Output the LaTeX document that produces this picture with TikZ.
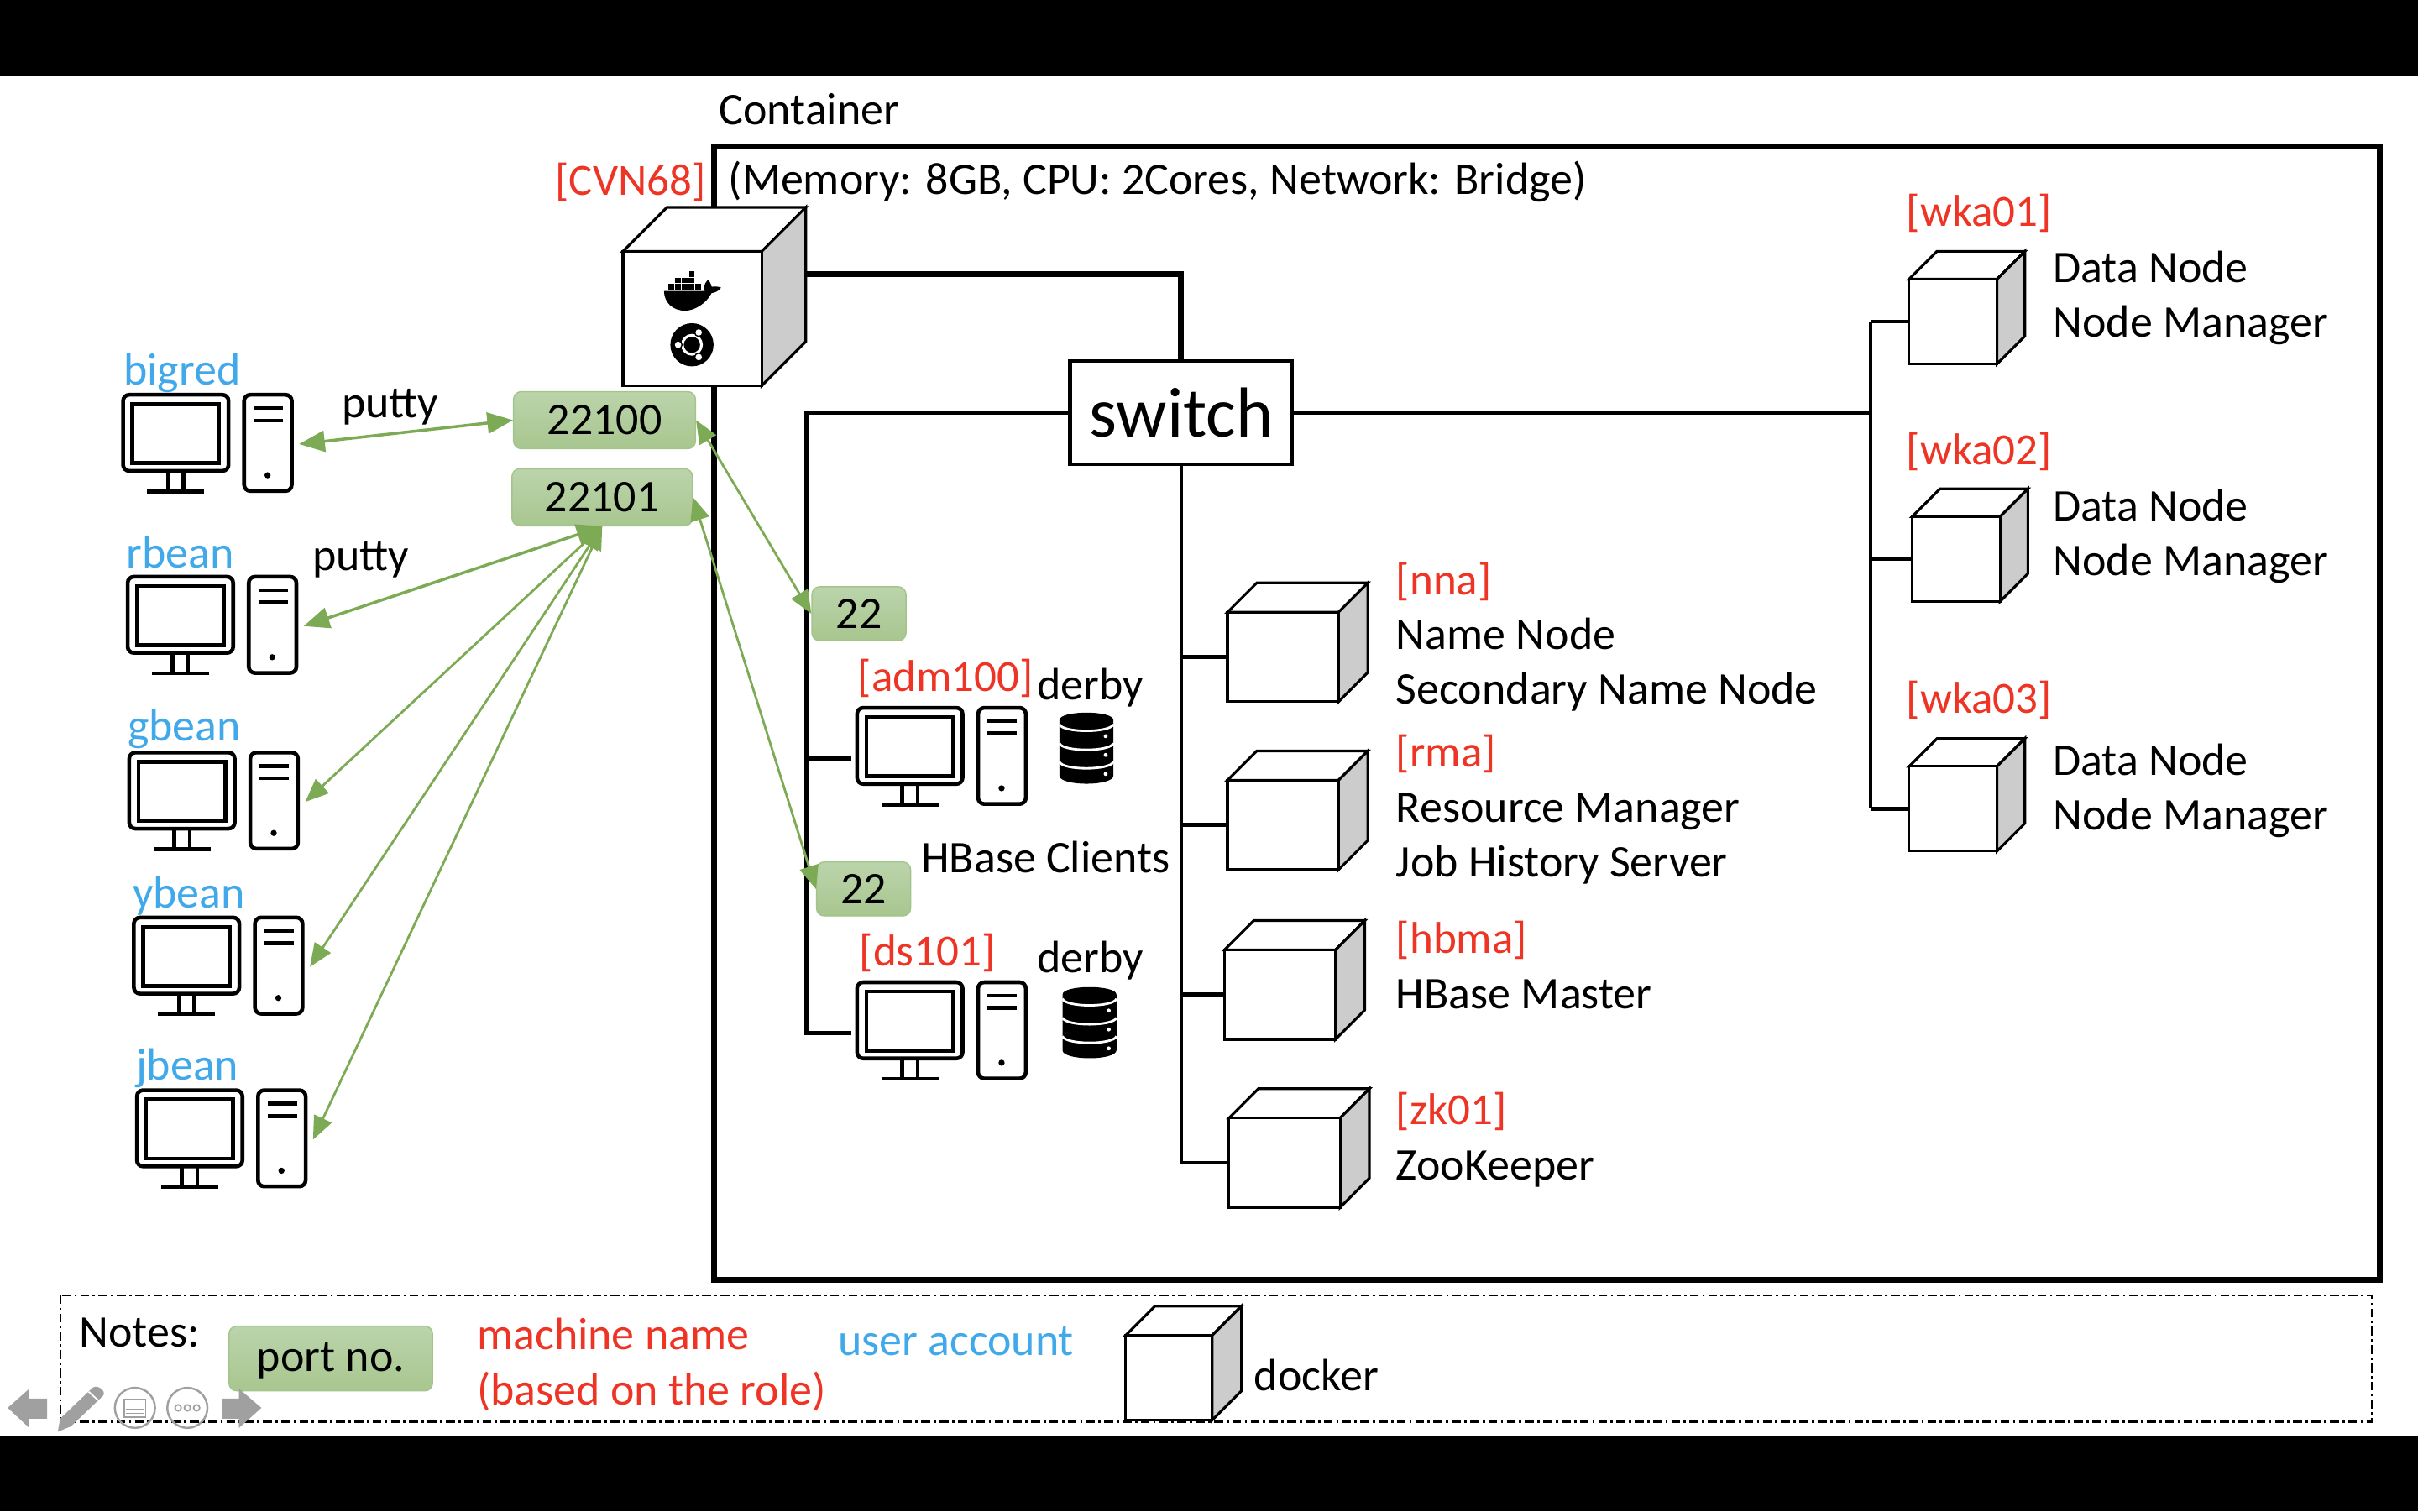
\documentclass[tikz,border=0pt]{standalone}
\usepackage{fontspec}
\usepackage{xcolor}
\usetikzlibrary{shapes,arrows,positioning}
\setmainfont{Carlito}

\definecolor{machinered}{HTML}{EE3424}
\definecolor{userblue}{HTML}{41A9EA}
\definecolor{linkgreen}{HTML}{7DAB55}
\definecolor{porttop}{HTML}{BBD4AB}
\definecolor{portbot}{HTML}{A8C68F}
\definecolor{portedge}{HTML}{A3C48B}
\definecolor{toolgray}{HTML}{A0A0A0}
\newcommand{\unitpx}{0.0183673cm}

% cube: #1 front width, #2 front height, #3 depth
\tikzset{
  pics/dockerbox/.style n args={3}{code={
    \draw[boxline, fill=white] (0,0) -- (#3,-#3) -- (#1+#3,-#3) -- (#1,0) -- cycle;
    \draw[boxline, fill=black!20] (#1,0) -- (#1+#3,-#3) -- (#1+#3,#2-#3) -- (#1,#2) -- cycle;
    \draw[boxline, fill=white] (0,0) rectangle (#1,#2);
    \coordinate (-w) at (0,#2/2);
  }},
  pics/pcset/.style={code={
    \draw[pcline, rounded corners=4*\unitpx] (0.8,1) rectangle (69.2,50.4);
    \draw[pcline] (6.8,7) rectangle (63.2,45.4);
    \draw[pcline] (30,50.7) -- (30,63.7) (40,50.7) -- (40,63.7) (16.5,63.7) -- (53.5,63.7);
    \draw[pcline, rounded corners=4*\unitpx] (79.3,1) rectangle (110.2,63.4);
    \draw[pcline] (85.5,9.7) -- (104.5,9.7) (85.5,17.7) -- (104.5,17.7);
    \fill (94.5,53.2) circle (2);
    \coordinate (-w) at (-3,34);
    \coordinate (-e) at (115,33);
  }},
  pics/dbstack/.style={code={
    \fill (0,5) .. controls (0,-1.5) and (35,-1.5) .. (35,5) -- (35,41) .. controls (35,48) and (0,48) .. (0,41) -- cycle;
    \foreach \yy in {7.7,20,32}
      \draw[white, line width=0.8pt] (0,\yy) .. controls (2,\yy+5.7) and (33,\yy+5.7) .. (35,\yy);
    \foreach \yy in {15.4,27.6,39.9}
      \fill[white] (30,\yy) circle (1.3);
  }}
}

\begin{document}
\begin{tikzpicture}[x=\unitpx,y=-\unitpx]
  \tikzstyle{boxline} = [black, line width=0.9pt, line join=miter]
  \tikzstyle{pcline} = [black, line width=1.3pt]
  \tikzstyle{bus} = [black, line width=1.3pt]
  \tikzstyle{trunk} = [black, line width=2pt]
  \tikzstyle{link} = [<->, >=triangle 45, linkgreen, line width=1pt]
  \tikzstyle{linkthin} = [<->, >=triangle 45, linkgreen, line width=0.8pt]
  \tikzstyle{port} = [rectangle, rounded corners=5*\unitpx, draw=portedge, line width=0.4pt, top color=porttop, bottom color=portbot, inner sep=0pt, font=\fontsize{15.35}{18}\selectfont]
  \tikzstyle{lbl} = [inner sep=0pt, anchor=west, align=left, font=\fontsize{15.35}{18.5}\selectfont]
  \tikzstyle{machine} = [lbl, text=machinered, font=\fontsize{15.1}{18.7}\selectfont]
  \tikzstyle{user} = [inner sep=0pt, text=userblue, font=\fontsize{15.35}{18}\selectfont]
  \tikzstyle{tool} = [toolgray, line width=0.5pt]

  \useasboundingbox (0,0) rectangle (1568,980);
  \fill[black] (0,0) rectangle (1568,49);
  \fill[black] (0,931) rectangle (1568,980);

  % container
  \node[lbl] (cname) at (466,71) {Container};
  \draw[trunk, fill=white] (463,95) rectangle (1543,830);
  \node[lbl] (cspec) at (472,118) {(Memory: 8GB, CPU: 2Cores, Network: Bridge)};

  % switch and its buses
  \node[rectangle, draw, bus, fill=white, minimum width=144*\unitpx, minimum height=67*\unitpx, inner sep=0pt, font=\fontsize{24}{28}\selectfont] (switch) at (766,267.5) {switch};
  \coordinate (left) at (523,267.5);
  \coordinate (cluster) at (766,754);
  \coordinate (right) at (1213,267.5);

  % docker host
  \pic (cvn) at (404,163) {dockerbox={90}{87}{28.5}};
  \draw[trunk] (523,178) -| (switch.north);
  \node[machine, anchor=east] (cvnname) at (458,118) {[CVN68]};

  % whale
  \foreach \xx in {433.6,437.9,442.2,446.5,450.8} \fill (\xx,184) rectangle +(3.6,3.7);
  \foreach \xx in {437.9,442.2,446.5} \fill (\xx,180) rectangle +(3.6,3.6);
  \fill (446.9,176) rectangle +(3.6,3.6);
  \fill (430.6,188.7) -- (457,188.7) .. controls (456,184) and (458,183) .. (459,181.5) .. controls (461,183) and (461,185) .. (461.5,186) .. controls (464,185.5) and (466,186) .. (467.6,186.5) .. controls (466,189) and (463,190) .. (461.5,190) .. controls (458,197) and (450,201.5) .. (444.4,201.5) .. controls (436,201.5) and (430.6,196) .. (430.6,188.7) -- cycle;
  % ubuntu
  \fill (448.7,223.6) circle (14);
  \draw[white, line width=0.9pt] (448.7,223.6) circle (6.2);
  \fill (448.7,223.6) circle (4);
  \foreach \xx/\yy in {4.4/-8,-9/0,4.4/8} {
    \fill (448.7+\xx,223.6+\yy) circle (3);
    \fill[white] (448.7+\xx,223.6+\yy) circle (2.1);
  }

  % clients side
  \foreach \name/\x/\y in {adm100/555/458,ds101/555/636} {
    \pic (\name) at (\x,\y) {pcset};
  }
  \draw[bus] (switch.west) -- (left) |- (ds101-w);
  \draw[bus] (left |- adm100-w) -- (adm100-w);
  \pic at (687,462) {dbstack};
  \pic at (689,640) {dbstack};
  \node[machine] (adm100name) at (556,440) {[adm100]};
  \node[lbl] (derby1) at (672,446) {derby};
  \node[lbl] (hbc) at (597,556) {HBase Clients};
  \node[machine] (ds101name) at (557,618) {[ds101]};
  \node[lbl] (derby2) at (672,623) {derby};

  % cluster side
  \foreach \name/\x/\y/\dx/\dy/\dd in {nna/796/397/72/58/19,rma/796/506/72/58/19,hbma/794/616/72/58/19,zk01/797/725/72/58/19} {
    \pic (\name) at (\x,\y) {dockerbox={\dx}{\dy}{\dd}};
  }
  \draw[bus] (switch.south) -- (cluster) -- (zk01-w);
  \foreach \name in {nna,rma,hbma}
    \draw[bus] (cluster |- \name-w) -- (\name-w);
  \node[machine] (nnaname) at (905,377) {[nna]};
  \node[lbl] (nnatext) at (905,431) {Name Node\\Secondary Name Node};
  \node[machine] (rmaname) at (905,489) {[rma]};
  \node[lbl] (rmatext) at (905,544) {Resource Manager\\Job History Server};
  \node[machine] (hbmaname) at (905,610) {[hbma]};
  \node[lbl] (hbmatext) at (905,645) {HBase Master};
  \node[machine] (zkname) at (905,721) {[zk01]};
  \node[lbl] (zktext) at (905,758) {ZooKeeper};

  % workers
  \foreach \name/\x/\y in {wka01/1238/181,wka02/1240/335,wka03/1238/497} {
    \pic (\name) at (\x,\y) {dockerbox={57}{55}{18}};
  }
  \draw[bus] (switch.east) -- (right);
  \draw[bus] (right |- wka01-w) -- (right |- wka03-w);
  \foreach \name in {wka01,wka02,wka03}
    \draw[bus] (right |- \name-w) -- (\name-w);
  \foreach \name/\yy/\ty in {wka01/138/193,wka02/293/348,wka03/454/513} {
    \node[machine] (\name name) at (1236,\yy) {[\name]};
    \node[lbl] (\name text) at (1331,\ty) {Data Node\\Node Manager};
  }

  % users
  \foreach \name/\x/\y/\tx/\ty in {bigred/79/255/118/242,rbean/82/373/117/358,gbean/83/487/119.5/473,ybean/86/594/122.5/581,jbean/88/706/121.5/693} {
    \pic (\name) at (\x,\y) {pcset};
    \node[user] (\name name) at (\tx,\ty) {\name};
  }
  \node[lbl, anchor=center] (putty1) at (253,264) {putty};
  \node[lbl, anchor=center] (putty2) at (234,363) {putty};

  % ports
  \node[port, minimum width=118*\unitpx, minimum height=37*\unitpx] (p22100) at (392,272.5) {22100};
  \node[port, minimum width=117*\unitpx, minimum height=37*\unitpx] (p22101) at (390.5,322.5) {22101};
  \node[port, minimum width=61*\unitpx, minimum height=35*\unitpx] (padm) at (557,398) {22};
  \node[port, minimum width=61*\unitpx, minimum height=35*\unitpx] (pds) at (560,576.5) {22};
  \draw[link] (bigred-e) -- (p22100.west);
  \draw[link] (rbean-e) -- (p22101.south);
  \foreach \name in {gbean,ybean,jbean}
    \draw[linkthin] (\name-e) -- (p22101.south);
  \draw[linkthin] (p22100.east) -- (padm.west);
  \draw[linkthin] (p22101.east) -- (pds.west);

  % notes
  \draw[black, line width=0.6pt, dash pattern=on 3pt off 1.2pt on 0.8pt off 1.2pt] (39,840) rectangle (1538,922);
  \node[lbl] (notes) at (51,864) {Notes:};
  \node[port, text depth=0.8pt, minimum width=132*\unitpx, minimum height=42*\unitpx] (noteport) at (214.5,881) {port no.};
  \node[machine, font=\fontsize{15.35}{18.7}\selectfont] (notename) at (309,885) {machine name\\(based on the role)};
  \node[user, anchor=west] (noteuser) at (543,870) {user account};
  \pic (notebox) at (730,866) {dockerbox={56}{55}{19}};
  \node[lbl] (notedock) at (813,892) {docker};

  % slide controls
  \fill[toolgray] (5,913) -- (19,900.6) -- (19,907) -- (30.6,907) -- (30.6,920) -- (19,920) -- (19,926) -- cycle;
  \fill[toolgray] (169.5,913) -- (155,900.6) -- (155,907) -- (143.8,907) -- (143.8,920) -- (155,920) -- (155,926) -- cycle;
  \fill[toolgray] (37.5,928.5) -- (39,920) -- (60,900) .. controls (63,897.5) and (69,902) .. (67,905) -- (46,925) -- cycle;
  \draw[white, line width=0.5pt] (57.5,902.5) -- (63.5,908);
  \draw[tool, line width=0.7pt] (87.5,913) circle (13);
  \draw[tool] (80.5,907.5) rectangle (94.5,919);
  \draw[tool] (81.5,914) -- (93.5,914) (81.5,916.5) -- (93.5,916.5);
  \draw[tool, line width=0.7pt] (121.5,913) circle (13);
  \foreach \xx in {115.5,121.5,127.5} \draw[tool] (\xx,913) circle (2);
\end{tikzpicture}
\end{document}
